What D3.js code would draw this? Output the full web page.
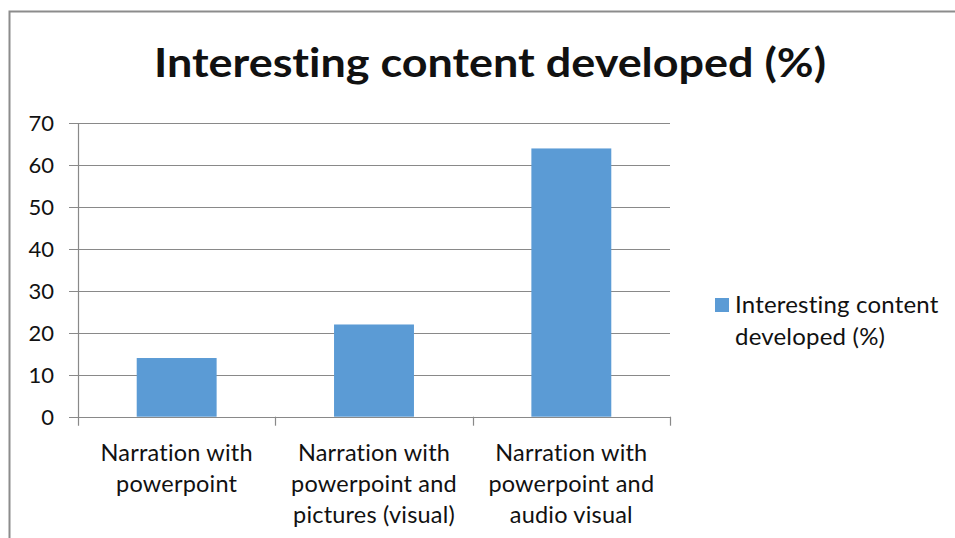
<!DOCTYPE html>
<html><head><meta charset="utf-8">
<script src="https://cdn.jsdelivr.net/npm/d3@7"></script>
<style>body{margin:0;background:#fff}svg{display:block}text{font-family:Lato,"Noto Sans",sans-serif;fill:#111;font-variant-ligatures:none;font-feature-settings:"liga" 0}</style>
</head><body><svg id="c" width="955" height="538"></svg>
<script>
const title = "Interesting content developed (%)";
const seriesName = "Interesting content developed (%)";
const categories = [
  ["Narration with", "powerpoint"],
  ["Narration with", "powerpoint and", "pictures (visual)"],
  ["Narration with", "powerpoint and", "audio visual"]
];
const values = [14, 22, 64];
const yTicks = [0, 10, 20, 30, 40, 50, 60, 70];
const legendLines = ["Interesting content", "developed (%)"];

const svg = d3.select("#c");
const W = 955, H = 538;
const m = {left: 78, right: 670, top: 123.3, bottom: 416.7};
const grey = "#898989", blue = "#5b9bd5";

// border
svg.append("path").attr("d", `M9.5,${H} V11.5 H${W}`).attr("fill","none").attr("stroke","#8c8c8c").attr("stroke-width",2);

// title
svg.append("text").attr("x", 490).attr("y", 77).attr("text-anchor","middle")
  .attr("font-size", 41).attr("font-weight", 700).attr("textLength", 672).attr("lengthAdjust","spacingAndGlyphs").text(title);

const x = d3.scaleBand().domain(d3.range(categories.length)).range([m.left, m.right]).padding(0);
const y = d3.scaleLinear().domain([0, 70]).range([m.bottom, m.top]);

// gridlines & y ticks
const g = svg.append("g");
yTicks.forEach(t => {
  g.append("line").attr("x1", 69).attr("x2", m.right).attr("y1", Math.round(y(t))+0.5).attr("y2", Math.round(y(t))+0.5)
    .attr("stroke", grey).attr("stroke-width", 1.2);
  g.append("text").attr("x", 54).attr("y", y(t)).attr("dy","0.36em").attr("text-anchor","end").attr("font-size", 22).text(t);
});
// y axis line
g.append("line").attr("x1", m.left+0.5).attr("x2", m.left+0.5).attr("y1", m.top).attr("y2", m.bottom+9).attr("stroke", grey).attr("stroke-width",1.2);
// x tick marks at band boundaries
const bounds = categories.map((c,i)=>x(i)).concat([m.right]);
bounds.forEach((b,i) => {
  if (i===0) return;
  g.append("line").attr("x1", Math.round(b)+0.5).attr("x2", Math.round(b)+0.5).attr("y1", m.bottom).attr("y2", m.bottom+9).attr("stroke", grey).attr("stroke-width",1.2);
});

// bars
const bw = x.bandwidth()*0.405;
svg.append("g").selectAll("rect").data(values).join("rect")
  .attr("x", (d,i)=> x(i) + x.bandwidth()/2 - bw/2)
  .attr("width", bw)
  .attr("y", d=>y(d)).attr("height", d=>y(0)-y(d)).attr("fill", blue);

// category labels
categories.forEach((lines,i) => {
  const t = svg.append("text").attr("text-anchor","middle").attr("font-size", 23.5).attr("letter-spacing", 0.2);
  lines.forEach((l,j) => t.append("tspan").attr("x", x(i)+x.bandwidth()/2).attr("y", 461 + j*31).text(l));
});

// legend
svg.append("rect").attr("x", 715).attr("y", 298).attr("width", 14).attr("height", 14).attr("fill", blue);
const lt = svg.append("text").attr("font-size", 24).attr("letter-spacing", 0.2);
legendLines.forEach((l,j)=> lt.append("tspan").attr("x", 735).attr("y", 313 + j*32).text(l));
</script></body></html>
